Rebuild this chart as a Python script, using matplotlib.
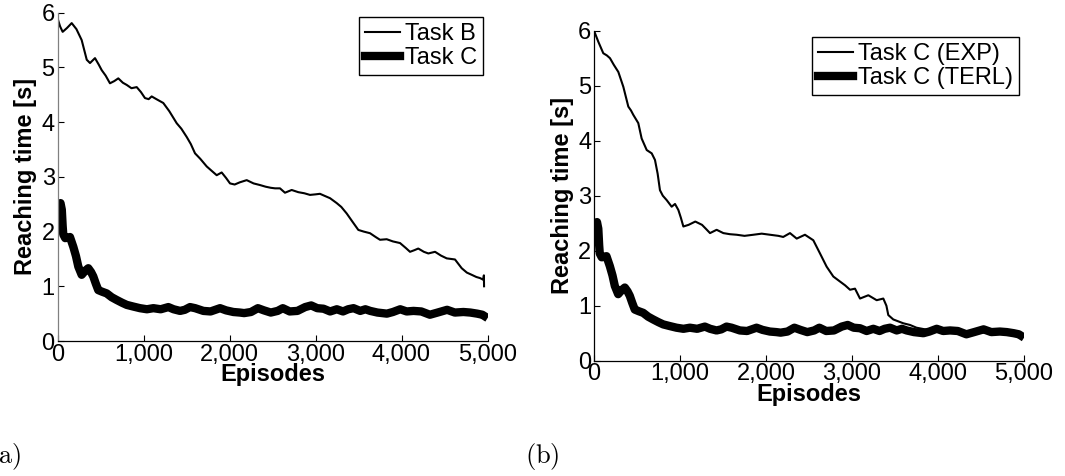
"""Reaching time vs episodes, two panels: (a) Task B vs Task C, (b) Task C EXP vs TERL."""
import matplotlib

matplotlib.use("Agg")
import matplotlib.pyplot as plt
from matplotlib.ticker import FuncFormatter

plt.rcParams["font.family"] = ["Liberation Sans", "DejaVu Sans"]
plt.rcParams["mathtext.fontset"] = "cm"

# Task B (panel a, thin line)
task_b_ep = [0, 30, 60, 110, 165, 220, 281, 340, 378, 436,
             480, 514, 560, 610, 660, 707, 760, 805, 860, 921,
             970, 1017, 1060, 1095, 1150, 1230, 1300, 1386, 1440, 1502,
             1550, 1599, 1660, 1735, 1800, 1851, 1909, 1960, 2006, 2060,
             2120, 2200, 2280, 2355, 2420, 2480, 2530, 2587, 2645, 2723,
             2800, 2870, 2936, 3000, 3052, 3110, 3169, 3247, 3300, 3363,
             3430, 3498, 3560, 3634, 3700, 3750, 3828, 3900, 3983, 4050,
             4099, 4150, 4195, 4260, 4312, 4390, 4460, 4526, 4622, 4700,
             4760, 4816, 4870, 4913, 4950, 4958, 4960]
task_b = [5.9, 5.75, 5.65, 5.72, 5.81, 5.7, 5.5, 5.14, 5.08, 5.17,
          5.05, 4.95, 4.85, 4.71, 4.75, 4.8, 4.72, 4.68, 4.62, 4.64,
          4.55, 4.44, 4.42, 4.47, 4.42, 4.35, 4.2, 3.98, 3.88, 3.73,
          3.6, 3.43, 3.33, 3.19, 3.1, 3.03, 3.08, 2.98, 2.88, 2.86,
          2.9, 2.94, 2.88, 2.85, 2.82, 2.8, 2.79, 2.79, 2.71, 2.76,
          2.72, 2.7, 2.67, 2.68, 2.69, 2.65, 2.61, 2.52, 2.45, 2.33,
          2.18, 2.03, 2.0, 1.97, 1.9, 1.85, 1.86, 1.82, 1.79, 1.7,
          1.63, 1.66, 1.69, 1.63, 1.60, 1.63, 1.56, 1.51, 1.49, 1.33,
          1.25, 1.21, 1.17, 1.15, 1.12, 1.2, 1.0]

# Task C / Task C (TERL) (thick line, both panels)
task_c_ep = [10, 20, 35, 50, 60, 67, 90, 145, 184, 215,
             242, 281, 320, 358, 390, 416, 445, 474, 520, 572,
             630, 688, 750, 805, 880, 959, 1040, 1115, 1200, 1289,
             1350, 1425, 1480, 1541, 1600, 1696, 1780, 1890, 1960, 2045,
             2120, 2170, 2250, 2330, 2400, 2480, 2560, 2620, 2700, 2790,
             2880, 2950, 3020, 3093, 3170, 3248, 3320, 3380, 3442, 3520,
             3580, 3636, 3720, 3830, 3900, 3985, 4060, 4140, 4230, 4330,
             4420, 4530, 4620, 4720, 4800, 4880, 4940, 4960]
task_c = [2.2, 2.45, 2.52, 2.4, 2.1, 1.95, 1.88, 1.9, 1.72, 1.55,
          1.36, 1.21, 1.28, 1.33, 1.26, 1.18, 1.05, 0.93, 0.9, 0.87,
          0.8, 0.75, 0.7, 0.66, 0.63, 0.6, 0.58, 0.6, 0.58, 0.62,
          0.58, 0.55, 0.57, 0.62, 0.6, 0.55, 0.54, 0.6, 0.56, 0.53,
          0.52, 0.51, 0.53, 0.6, 0.56, 0.52, 0.55, 0.6, 0.54, 0.55,
          0.62, 0.65, 0.6, 0.59, 0.54, 0.58, 0.54, 0.58, 0.6, 0.55,
          0.58, 0.55, 0.52, 0.5, 0.53, 0.58, 0.54, 0.55, 0.54, 0.48,
          0.52, 0.57, 0.52, 0.53, 0.52, 0.5, 0.48, 0.46]

# Task C (EXP) (panel b, thin line)
task_c_exp_ep = [0, 50, 108, 150, 186, 230, 283, 341, 399, 430,
                 457, 515, 554, 613, 671, 709, 740, 767, 800, 845,
                 903, 942, 981, 1010, 1039, 1100, 1178, 1256, 1300, 1349,
                 1426, 1504, 1580, 1659, 1750, 1853, 1950, 2047, 2144, 2200,
                 2279, 2357, 2453, 2550, 2628, 2705, 2783, 2860, 2920, 2977,
                 3035, 3093, 3190, 3287, 3364, 3400, 3422, 3480, 3597, 3674,
                 3750, 3850, 4000, 4200, 4400, 4600, 4800, 4960]
task_c_exp = [6.0, 5.8, 5.59, 5.55, 5.5, 5.38, 5.25, 4.98, 4.62, 4.55,
              4.47, 4.32, 4.04, 3.83, 3.77, 3.65, 3.4, 3.1, 3.0, 2.92,
              2.8, 2.85, 2.74, 2.6, 2.44, 2.47, 2.53, 2.47, 2.4, 2.32,
              2.38, 2.32, 2.3, 2.29, 2.27, 2.29, 2.31, 2.29, 2.27, 2.25,
              2.32, 2.22, 2.29, 2.19, 1.95, 1.71, 1.53, 1.44, 1.37, 1.29,
              1.31, 1.13, 1.19, 1.1, 1.13, 1.0, 0.83, 0.75, 0.68, 0.65,
              0.6, 0.57, 0.55, 0.52, 0.53, 0.5, 0.5, 0.48]

x_ticks = [0, 1000, 2000, 3000, 4000, 5000]
y_ticks = [0, 1, 2, 3, 4, 5, 6]

FS = 17
W, H = 1065, 476


def style(ax, left_color="black"):
    ax.set_xlim(0, 5000)
    ax.set_ylim(0, 6)
    ax.set_xticks(x_ticks)
    ax.set_yticks(y_ticks)
    ax.xaxis.set_major_formatter(FuncFormatter(lambda v, p: f"{int(v):,}"))
    ax.spines["top"].set_visible(False)
    ax.spines["right"].set_visible(False)
    ax.spines["left"].set_color(left_color)
    for s in ("left", "bottom"):
        ax.spines[s].set_linewidth(0.9)
    ax.tick_params(direction="in", length=4, width=0.8, labelsize=FS)
    ax.tick_params(axis="x", pad=2)
    ax.tick_params(axis="y", pad=2)
    ax.set_xlabel("Episodes", fontsize=FS, fontweight="bold", labelpad=-2)
    ax.set_ylabel("Reaching time [s]", fontsize=FS, fontweight="bold", labelpad=3)


def legend(ax, right, top):
    leg = ax.legend(loc="upper right", bbox_to_anchor=(right / W, 1 - top / H),
                    bbox_transform=fig.transFigure, borderaxespad=0,
                    fontsize=FS, fancybox=False, framealpha=1, edgecolor="black",
                    handlelength=1.5, handletextpad=0.2, labelspacing=0.1,
                    borderpad=0.25)
    leg.get_frame().set_linewidth(1.0)


fig = plt.figure(figsize=(W / 100, H / 100), dpi=100)
axA = fig.add_axes([57.5 / W, 1 - 341 / H, 430 / W, 328.3 / H])
axB = fig.add_axes([594 / W, 1 - 360.7 / H, 430 / W, 330 / H])

axA.plot(task_b_ep, task_b, color="black", lw=1.5, label="Task B")
axA.plot(task_c_ep, task_c, color="black", lw=6, label="Task C")
style(axA, left_color="#808080")
legend(axA, 483, 17)

axB.plot(task_c_exp_ep, task_c_exp, color="black", lw=1.5, label="Task C (EXP)")
axB.plot(task_c_ep, task_c, color="black", lw=6, label="Task C (TERL)")
style(axB)
legend(axB, 1019, 37)

fig.text(-11.5 / W, 1 - 457 / H, r"$\mathrm{(a)}$", fontsize=19, va="center", ha="left")
fig.text(525 / W, 1 - 457 / H, r"$\mathrm{(b)}$", fontsize=19, va="center", ha="left")

fig.savefig("out.png", dpi=100)
